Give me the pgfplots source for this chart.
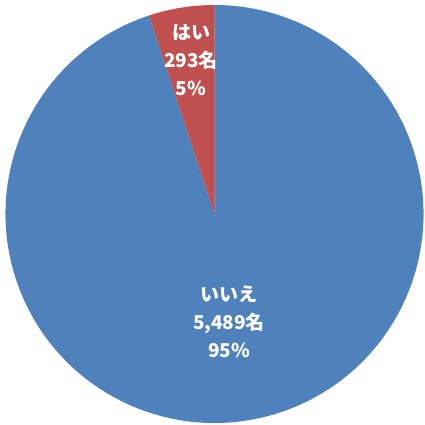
\documentclass[border=0pt]{standalone}
\usepackage{pgfplots}
\pgfplotsset{compat=1.18}
\usepackage{pgfplotstable}
\usepackage{fontspec}
\setmainfont{Noto Sans CJK JP}
\definecolor{pieblue}{HTML}{4F81BD}
\definecolor{piered}{HTML}{C0504D}
\pgfplotstableread{
label count pct
hai 293 5
iie 5489 95
}\piedata
\pgfplotstablegetelem{0}{count}\of\piedata \edef\cntA{\pgfplotsretval}
\pgfplotstablegetelem{1}{count}\of\piedata \edef\cntB{\pgfplotsretval}
\pgfmathsetmacro{\fracA}{\cntA/(\cntA+\cntB)}
\pgfmathsetmacro{\endA}{90+360*\fracA}
\begin{document}
\begin{tikzpicture}
\begin{axis}[
  x=1pt, y=1pt,
  xmin=0, xmax=424, ymin=0, ymax=425,
  hide axis, clip=false,
]
\coordinate (bl) at (axis cs:0,0);
\coordinate (tr) at (axis cs:424,425);
\fill[pieblue] (axis cs:214.5,211) -- ++(\endA:209pt) arc[start angle=\endA, end angle=450, radius=209pt] -- cycle;
\fill[piered] (axis cs:214.5,211) -- ++(90:209pt) arc[start angle=90, end angle=\endA, radius=209pt] -- cycle;
\node[align=center, text=white, font=\bfseries\fontsize{19}{28}\selectfont, inner sep=0pt] at (axis cs:191,365) {はい\\293名\\5\%};
\node[align=center, text=white, font=\bfseries\fontsize{19}{28}\selectfont, inner sep=0pt] at (axis cs:229,103) {いいえ\\5,489名\\95\%};
\end{axis}
\pgfresetboundingbox
\path[use as bounding box] (bl) rectangle (tr);
\end{tikzpicture}
\end{document}
